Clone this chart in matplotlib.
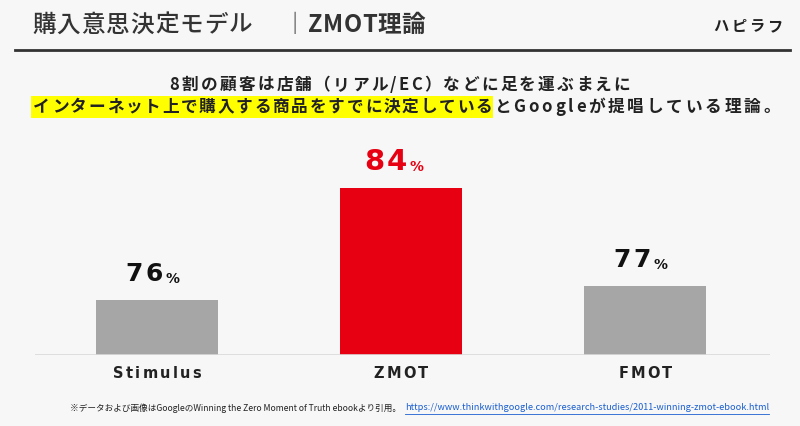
import matplotlib
matplotlib.use("Agg")
import matplotlib.pyplot as plt
from matplotlib.lines import Line2D
from matplotlib.patches import Rectangle

categories = ["Stimulus", "ZMOT", "FMOT"]
values = [76, 84, 77]
colors = ["#a6a6a6", "#e60012", "#a6a6a6"]

JP = "Noto Sans CJK JP"
W, H = 800, 426
fig = plt.figure(figsize=(8, 4.26), dpi=100)
bg = "#f7f7f7"
fig.patch.set_facecolor(bg)
renderer = fig.canvas.get_renderer()

def fx(px): return px / W
def fy(py): return 1 - py / H

def spaced(x, y, s, sp, ha="left", **kw):
    """Draw string char by char with letter spacing sp (px). Returns (x0, x1) in px."""
    ts = [fig.text(0, fy(y), ch, va="center", ha="left", **kw) for ch in s]
    ws = [t.get_window_extent(renderer).width for t in ts]
    total = sum(ws) + sp * (len(s) - 1)
    x0 = x if ha == "left" else (x - total if ha == "right" else x - total / 2)
    cx = x0
    for t, w in zip(ts, ws):
        t.set_x(fx(cx))
        cx += w + sp
    return x0, x0 + total

ax = fig.add_axes([fx(35), fy(355), fx(770) - fx(35), (355 - 140) / H])
ax.set_facecolor(bg)
ax.bar(range(3), values, width=0.5, color=colors, bottom=0)
ax.set_xlim(-0.5, 2.512)
ax.set_ylim(72.1, 72.1 + 215 / 14)
for s in ax.spines.values():
    s.set_visible(False)
ax.axhline(72.1, color="#d9d9d9", lw=1.2)
ax.set_yticks([])
ax.set_xticks([])

fig.canvas.draw()
for i, (c, v) in enumerate(zip(categories, values)):
    px = ax.transData.transform((i, v))
    bx = px[0]
    top = H - px[1]
    spaced(bx, 374, c, 2.2, ha="center", fontsize=10.5, fontweight="bold", family="DejaVu Sans", color="#222")
    col = "#e60012" if i == 1 else "#111"
    fsn = 21 if i == 1 else 18
    x0, x1 = spaced(bx + 6, top - 26, str(v), 2.5, ha="right", fontsize=fsn, fontweight="bold",
                    family="DejaVu Sans", color=col)
    fig.text(fx(x1 + 2), fy(top - 21), "%", fontsize=10, fontweight="bold", family="DejaVu Sans",
             color=col, va="center", ha="left")

# header
spaced(32, 25, "購入意思決定モデル", 1.0, fontsize=17, fontweight="medium", family=JP, color="#333")
fig.text(fx(295), fy(25), "｜", family=JP, fontsize=16, color="#333", va="center", ha="center")
spaced(308, 25, "ZMOT理論", 0.5, fontsize=17, fontweight="bold", family=JP, color="#333")
spaced(782, 26, "ハピラフ", 2.5, ha="right", fontsize=11, fontweight="bold", family=JP, color="#222")
fig.add_artist(Line2D([fx(15), fx(790)], [fy(50), fy(50)], color="#333", lw=2))

# subtitle
fs = 12
spaced(400, 85, "8割の顧客は店舗（リアル/EC）などに足を運ぶまえに", 2.3, ha="center", family=JP,
       fontsize=fs, fontweight="bold", color="#222")
a0, a1 = spaced(492, 107, "インターネット上で購入する商品をすでに決定している", 1.8, ha="right", family=JP,
                fontsize=fs, fontweight="bold", color="#222", zorder=3)
fig.add_artist(Rectangle((fx(a0 - 2), fy(118)), fx(a1 - a0 + 3), (118 - 96) / H,
                         facecolor="#ffff00", edgecolor="none", zorder=1))
spaced(494, 107, "とGoogleが提唱している理論。", 2.8, family=JP, fontsize=fs, fontweight="bold", color="#222")

# footnote
fig.text(fx(70), fy(408), "※データおよび画像はGoogleのWinning the Zero Moment of Truth ebookより引用。",
         family=JP, fontsize=6.2, color="#222", va="center", ha="left")
link = fig.text(fx(769), fy(408), "https://www.thinkwithgoogle.com/research-studies/2011-winning-zmot-ebook.html",
                family=JP, fontsize=6.6, color="#1a5fd0", va="center", ha="right")
lb = link.get_window_extent(renderer)
fig.add_artist(Line2D([fx(lb.x0), fx(lb.x1)], [fy(414), fy(414)], color="#1a5fd0", lw=0.6))

fig.savefig("out.png", dpi=100, facecolor=bg)
